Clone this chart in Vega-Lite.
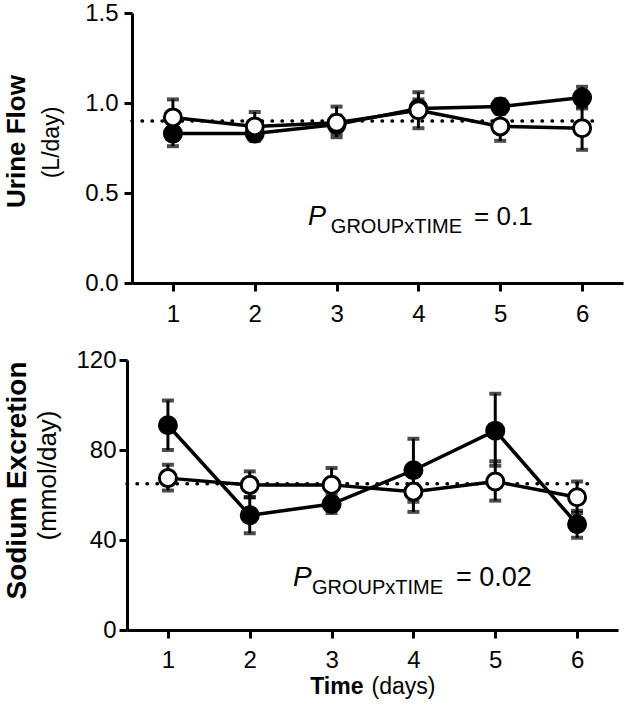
{
  "$schema": "https://vega.github.io/schema/vega-lite/v6.json",
  "padding": {"left": 3, "top": 1, "right": 2, "bottom": 5},
  "datasets": {
    "urine": [
      {"day": 1, "group": "A", "mean": 0.83, "lo": 0.76, "hi": 0.90},
      {"day": 2, "group": "A", "mean": 0.83, "lo": 0.80, "hi": 0.86},
      {"day": 3, "group": "A", "mean": 0.88, "lo": 0.83, "hi": 0.93},
      {"day": 4, "group": "A", "mean": 0.97, "lo": 0.92, "hi": 1.02},
      {"day": 5, "group": "A", "mean": 0.98, "lo": 0.94, "hi": 1.02},
      {"day": 6, "group": "A", "mean": 1.03, "lo": 0.97, "hi": 1.09},
      {"day": 1, "group": "B", "mean": 0.92, "lo": 0.82, "hi": 1.02},
      {"day": 2, "group": "B", "mean": 0.87, "lo": 0.79, "hi": 0.95},
      {"day": 3, "group": "B", "mean": 0.89, "lo": 0.81, "hi": 0.98},
      {"day": 4, "group": "B", "mean": 0.96, "lo": 0.86, "hi": 1.06},
      {"day": 5, "group": "B", "mean": 0.87, "lo": 0.79, "hi": 0.95},
      {"day": 6, "group": "B", "mean": 0.86, "lo": 0.74, "hi": 0.98}
    ],
    "sodium": [
      {"day": 1, "group": "A", "mean": 91, "lo": 80, "hi": 102},
      {"day": 2, "group": "A", "mean": 51, "lo": 43, "hi": 59},
      {"day": 3, "group": "A", "mean": 56, "lo": 52, "hi": 60},
      {"day": 4, "group": "A", "mean": 71, "lo": 57, "hi": 85},
      {"day": 5, "group": "A", "mean": 88.6, "lo": 73, "hi": 105},
      {"day": 6, "group": "A", "mean": 47, "lo": 41, "hi": 53},
      {"day": 1, "group": "B", "mean": 67.5, "lo": 62, "hi": 73.5},
      {"day": 2, "group": "B", "mean": 64.5, "lo": 59, "hi": 70.5},
      {"day": 3, "group": "B", "mean": 64.5, "lo": 57, "hi": 72},
      {"day": 4, "group": "B", "mean": 61.5, "lo": 52.5, "hi": 70.5},
      {"day": 5, "group": "B", "mean": 66, "lo": 57.5, "hi": 75},
      {"day": 6, "group": "B", "mean": 59, "lo": 52, "hi": 66}
    ],
    "refUrine": [{"reference": 0.9}],
    "refSodium": [{"reference": 65}]
  },
  "columns": 1,
  "spacing": 22,
  "concat": [
    {
      "width": 491,
      "height": 270,
      "layer": [
        {
          "data": {"name": "refUrine"},
          "mark": {"type": "rule", "strokeDash": [0.5, 9.5], "strokeCap": "round", "strokeWidth": 3.5, "color": "black"},
          "encoding": {
            "x": {"datum": 0.5, "type": "quantitative", "scale": {"domain": [0.5, 6.5], "nice": false}, "axis": null},
            "x2": {"datum": 6.21},
            "y": {"field": "reference", "type": "quantitative", "scale": {"domain": [0, 1.5], "nice": false},
              "axis": {"orient": "left", "title": "Urine Flow", "titleFontWeight": "bold", "titleFontSize": 26, "titleY": 128, "labels": false, "ticks": false, "domain": false, "titlePadding": 103}}
          }
        },
        {
          "data": {"name": "urine"},
          "mark": {"type": "line", "color": "black", "strokeWidth": 3.5},
          "encoding": {
            "x": {"field": "day", "type": "quantitative", "axis": null},
            "y": {"field": "mean", "type": "quantitative", "axis": null},
            "detail": {"field": "group"}
          }
        },
        {
          "data": {"name": "urine"},
          "mark": {"type": "errorbar", "color": "black", "ticks": {"size": 12, "thickness": 4, "color": "black"}, "rule": {"strokeWidth": 3}},
          "encoding": {
            "x": {"field": "day", "type": "quantitative", "axis": null},
            "y": {"field": "lo", "type": "quantitative", "axis": null},
            "y2": {"field": "hi"},
            "detail": {"field": "group"}
          }
        },
        {
          "data": {"name": "urine"},
          "mark": {"type": "point", "shape": "circle", "filled": true, "size": 290, "stroke": "black", "strokeWidth": 3, "opacity": 1},
          "encoding": {
            "x": {"field": "day", "type": "quantitative", "axis": {"orient": "bottom", "values": [1, 2, 3, 4, 5, 6], "title": null, "labelPadding": 11}},
            "y": {"field": "mean", "type": "quantitative", "axis": {"orient": "left", "values": [0, 0.5, 1, 1.5], "format": ".1f", "title": "(L/day)", "titleFontWeight": "normal", "titleFontSize": 23, "titleY": 129, "titlePadding": 21, "labelPadding": 6}},
            "fill": {"field": "group", "type": "nominal", "scale": {"domain": ["A", "B"], "range": ["black", "white"]}, "legend": null}
          }
        },
        {
          "data": {"name": "refUrine"},
          "mark": {"type": "text", "text": "P", "fontStyle": "italic", "fontSize": 27, "align": "left", "baseline": "alphabetic", "color": "black"},
          "encoding": {"x": {"datum": 2.65, "type": "quantitative", "axis": null}, "y": {"datum": 0.32, "type": "quantitative", "axis": null}}
        },
        {
          "data": {"name": "refUrine"},
          "mark": {"type": "text", "text": "GROUPxTIME", "fontSize": 20, "align": "left", "baseline": "alphabetic", "color": "black"},
          "encoding": {"x": {"datum": 2.93, "type": "quantitative", "axis": null}, "y": {"datum": 0.28, "type": "quantitative", "axis": null}}
        },
        {
          "data": {"name": "refUrine"},
          "mark": {"type": "text", "text": "= 0.1", "fontSize": 26, "align": "left", "baseline": "alphabetic", "color": "black"},
          "encoding": {"x": {"datum": 4.68, "type": "quantitative", "axis": null}, "y": {"datum": 0.32, "type": "quantitative", "axis": null}}
        }
      ],
      "resolve": {"axis": {"x": "independent", "y": "independent"}}
    },
    {
      "width": 491,
      "height": 270,
      "layer": [
        {
          "data": {"name": "refSodium"},
          "mark": {"type": "rule", "strokeDash": [0.5, 9.5], "strokeCap": "round", "strokeWidth": 3.5, "color": "black"},
          "encoding": {
            "x": {"datum": 0.5, "type": "quantitative", "scale": {"domain": [0.5, 6.5], "nice": false, "range": [-5, 486]},
              "axis": {"orient": "bottom", "title": "(days)", "titleFontWeight": "normal", "titleFontSize": 23, "labels": false, "ticks": false, "domain": false, "titleX": 239, "titleAlign": "left", "titleY": 63, "titleBaseline": "alphabetic"}},
            "x2": {"datum": 6.21},
            "y": {"field": "reference", "type": "quantitative", "scale": {"domain": [0, 120], "nice": false},
              "axis": {"orient": "left", "title": "Sodium Excretion", "titleFontWeight": "bold", "titleFontSize": 28, "titleY": 120, "labels": false, "ticks": false, "domain": false, "titlePadding": 101}}
          }
        },
        {
          "data": {"name": "sodium"},
          "mark": {"type": "line", "color": "black", "strokeWidth": 3.5},
          "encoding": {
            "x": {"field": "day", "type": "quantitative", "axis": null},
            "y": {"field": "mean", "type": "quantitative", "axis": null},
            "detail": {"field": "group"}
          }
        },
        {
          "data": {"name": "sodium"},
          "mark": {"type": "errorbar", "color": "black", "ticks": {"size": 12, "thickness": 4, "color": "black"}, "rule": {"strokeWidth": 3}},
          "encoding": {
            "x": {"field": "day", "type": "quantitative", "axis": null},
            "y": {"field": "lo", "type": "quantitative", "axis": null},
            "y2": {"field": "hi"},
            "detail": {"field": "group"}
          }
        },
        {
          "data": {"name": "sodium"},
          "mark": {"type": "point", "shape": "circle", "filled": true, "size": 290, "stroke": "black", "strokeWidth": 3, "opacity": 1},
          "encoding": {
            "x": {"field": "day", "type": "quantitative", "axis": {"orient": "bottom", "values": [1, 2, 3, 4, 5, 6], "title": "Time", "titleFontWeight": "bold", "titleFontSize": 23, "titleX": 231, "titleAlign": "right", "titleY": 63, "titleBaseline": "alphabetic", "labelPadding": 10}},
            "y": {"field": "mean", "type": "quantitative", "axis": {"orient": "left", "offset": 5, "values": [0, 40, 80, 120], "title": "(mmol/day)", "titleFontWeight": "normal", "titleFontSize": 26, "titleY": 115, "titlePadding": 15, "labelPadding": 3}},
            "fill": {"field": "group", "type": "nominal", "scale": {"domain": ["A", "B"], "range": ["black", "white"]}, "legend": null}
          }
        },
        {
          "data": {"name": "refSodium"},
          "mark": {"type": "text", "text": "P", "fontStyle": "italic", "fontSize": 28, "align": "left", "baseline": "alphabetic", "color": "black"},
          "encoding": {"x": {"datum": 2.53, "type": "quantitative", "axis": null}, "y": {"datum": 19.7, "type": "quantitative", "axis": null}}
        },
        {
          "data": {"name": "refSodium"},
          "mark": {"type": "text", "text": "GROUPxTIME", "fontSize": 20, "align": "left", "baseline": "alphabetic", "color": "black"},
          "encoding": {"x": {"datum": 2.76, "type": "quantitative", "axis": null}, "y": {"datum": 16.1, "type": "quantitative", "axis": null}}
        },
        {
          "data": {"name": "refSodium"},
          "mark": {"type": "text", "text": "= 0.02", "fontSize": 27, "align": "left", "baseline": "alphabetic", "color": "black"},
          "encoding": {"x": {"datum": 4.52, "type": "quantitative", "axis": null}, "y": {"datum": 19.7, "type": "quantitative", "axis": null}}
        }
      ],
      "resolve": {"axis": {"x": "independent", "y": "independent"}}
    }
  ],
  "config": {
    "view": {"stroke": null},
    "font": "Liberation Sans",
    "text": {"font": "Liberation Sans"},
    "axis": {
      "grid": false,
      "domainColor": "black",
      "domainWidth": 3,
      "tickColor": "black",
      "tickWidth": 3,
      "tickSize": 8,
      "labelColor": "black",
      "labelFont": "Liberation Sans",
      "labelFontSize": 24,
      "titleFont": "Liberation Sans",
      "titleColor": "black"
    }
  }
}
